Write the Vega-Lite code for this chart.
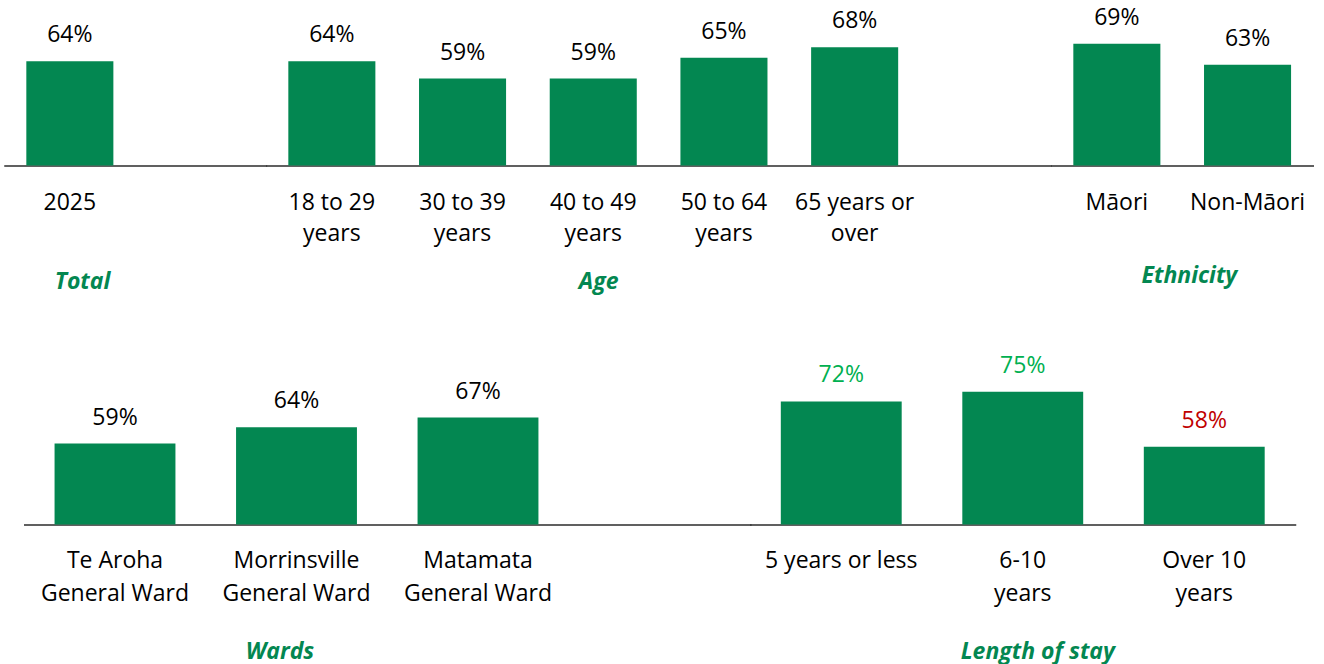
{
  "$schema": "https://vega.github.io/schema/vega-lite/v6.json",
  "padding": {"left": 4.5, "top": 5.5, "right": 0, "bottom": 0},
  "bounds": "flush",
  "spacing": 370,
  "datasets": {
    "rows": [
      {"group": "Total", "label": "2025", "value": 0.64},
      {"group": "Age", "label": "18 to 29|years", "value": 0.64},
      {"group": "Age", "label": "30 to 39|years", "value": 0.59},
      {"group": "Age", "label": "40 to 49|years", "value": 0.59},
      {"group": "Age", "label": "50 to 64|years", "value": 0.65},
      {"group": "Age", "label": "65 years or|over", "value": 0.68},
      {"group": "Ethnicity", "label": "Māori", "value": 0.69},
      {"group": "Ethnicity", "label": "Non-Māori", "value": 0.63},
      {"group": "Wards", "label": "Te Aroha|General Ward", "value": 0.59},
      {"group": "Wards", "label": "Morrinsville|General Ward", "value": 0.64},
      {"group": "Wards", "label": "Matamata|General Ward", "value": 0.67},
      {"group": "Length of stay", "label": "5 years or less", "value": 0.72},
      {"group": "Length of stay", "label": "6-10|years", "value": 0.75},
      {"group": "Length of stay", "label": "Over 10|years", "value": 0.58}
    ]
  },
  "vconcat": [
    {
      "bounds": "flush",
      "spacing": 0,
      "resolve": {"scale": {"x": "independent", "y": "independent"}},
      "hconcat": [
        {
          "width": 261.4, "height": 160,
          "data": {"name": "rows"},
          "transform": [{"filter": "datum.group == 'Total'"}],
          "encoding": {
            "x": {"field": "label", "type": "nominal", "sort": null,
              "scale": {"domain": ["2025", "~"], "paddingInner": 0.334, "paddingOuter": 0.167},
              "axis": {"title": "Total", "titleX": 77.5, "titleY": 122.8, "labelPadding": 26, "labelLineHeight": 31,
                "labelExpr": "datum.value == '~' ? '' : split(datum.value, '|')"}},
            "y": {"field": "value", "type": "quantitative", "scale": {"domain": [0.34, 0.8], "zero": false, "nice": false}, "axis": null}
          },
          "layer": [
            {"mark": {"type": "bar", "color": "#038751"}, "encoding": {"y2": {"datum": 0.34}}},
            {"mark": {"type": "text", "baseline": "alphabetic", "dy": -19, "fontSize": 23, "color": "#000000"},
              "encoding": {"text": {"field": "value", "type": "quantitative", "format": ".0%"}}}
          ]
        },
        {
          "width": 784.2, "height": 160,
          "data": {"name": "rows"},
          "transform": [{"filter": "datum.group == 'Age'"}],
          "encoding": {
            "x": {"field": "label", "type": "nominal", "sort": null,
              "scale": {"domain": ["18 to 29|years", "30 to 39|years", "40 to 49|years", "50 to 64|years", "65 years or|over", "~"], "paddingInner": 0.334, "paddingOuter": 0.167},
              "axis": {"title": "Age", "titleX": 331.6, "titleY": 122.8, "labelPadding": 26, "labelLineHeight": 31,
                "labelExpr": "datum.value == '~' ? '' : split(datum.value, '|')"}},
            "y": {"field": "value", "type": "quantitative", "scale": {"domain": [0.34, 0.8], "zero": false, "nice": false}, "axis": null}
          },
          "layer": [
            {"mark": {"type": "bar", "color": "#038751"}, "encoding": {"y2": {"datum": 0.34}}},
            {"mark": {"type": "text", "baseline": "alphabetic", "dy": -19, "fontSize": 23, "color": "#000000"},
              "encoding": {"text": {"field": "value", "type": "quantitative", "format": ".0%"}}}
          ]
        },
        {
          "width": 261.4, "height": 160,
          "data": {"name": "rows"},
          "transform": [{"filter": "datum.group == 'Ethnicity'"}],
          "encoding": {
            "x": {"field": "label", "type": "nominal", "sort": null,
              "scale": {"domain": ["Māori", "Non-Māori"], "paddingInner": 0.334, "paddingOuter": 0.167},
              "axis": {"title": "Ethnicity", "titleX": 137.4, "titleY": 116.5, "labelPadding": 26, "labelLineHeight": 31,
                "labelExpr": "split(datum.value, '|')"}},
            "y": {"field": "value", "type": "quantitative", "scale": {"domain": [0.34, 0.8], "zero": false, "nice": false}, "axis": null}
          },
          "layer": [
            {"mark": {"type": "bar", "color": "#038751"}, "encoding": {"y2": {"datum": 0.34}}},
            {"mark": {"type": "text", "baseline": "alphabetic", "dy": -19, "fontSize": 23, "color": "#000000"},
              "encoding": {"text": {"field": "value", "type": "quantitative", "format": ".0%"}}}
          ]
        }
      ]
    },
    {
      "bounds": "flush",
      "spacing": 0,
      "resolve": {"scale": {"x": "independent", "y": "independent"}},
      "hconcat": [
        {
          "width": 745.75, "height": 149,
          "data": {"name": "rows"},
          "transform": [{"filter": "datum.group == 'Wards'"}],
          "encoding": {
            "x": {"field": "label", "type": "nominal", "sort": null,
              "scale": {"domain": ["Te Aroha|General Ward", "Morrinsville|General Ward", "Matamata|General Ward", "~"], "range": [19.75, 745.75], "paddingInner": 0.334, "paddingOuter": 0.167},
              "axis": {"title": "Wards", "titleX": 275, "titleY": 134, "labelPadding": 24.5, "labelLineHeight": 33,
                "labelExpr": "datum.value == '~' ? '' : split(datum.value, '|')"}},
            "y": {"field": "value", "type": "quantitative", "scale": {"domain": [0.34, 0.8], "zero": false, "nice": false}, "axis": null}
          },
          "layer": [
            {"mark": {"type": "bar", "color": "#038751"}, "encoding": {"y2": {"datum": 0.34}}},
            {"mark": {"type": "text", "baseline": "alphabetic", "dy": -19, "fontSize": 23, "color": "#000000"},
              "encoding": {"text": {"field": "value", "type": "quantitative", "format": ".0%"}}}
          ]
        },
        {
          "width": 544.5, "height": 149,
          "data": {"name": "rows"},
          "transform": [{"filter": "datum.group == 'Length of stay'"}],
          "encoding": {
            "x": {"field": "label", "type": "nominal", "sort": null,
              "scale": {"domain": ["5 years or less", "6-10|years", "Over 10|years"], "paddingInner": 0.334, "paddingOuter": 0.167},
              "axis": {"title": "Length of stay", "titleX": 286.8, "titleY": 133.5, "labelPadding": 24.5, "labelLineHeight": 33,
                "labelExpr": "split(datum.value, '|')"}},
            "y": {"field": "value", "type": "quantitative", "scale": {"domain": [0.34, 0.8], "zero": false, "nice": false}, "axis": null}
          },
          "layer": [
            {"mark": {"type": "bar", "color": "#038751"}, "encoding": {"y2": {"datum": 0.34}}},
            {"mark": {"type": "text", "baseline": "alphabetic", "dy": -19, "fontSize": 23},
              "encoding": {
                "text": {"field": "value", "type": "quantitative", "format": ".0%"},
                "color": {"condition": {"test": "datum.value < 0.6", "value": "#C00000"}, "value": "#00B050"}
              }}
          ]
        }
      ]
    }
  ],
  "config": {
    "font": "Open Sans",
    "view": {"stroke": null},
    "axisX": {
      "labelAngle": 0,
      "labelFontSize": 23,
      "labelColor": "#000000",
      "labelLimit": 0,
      "labelBaseline": "top",
      "ticks": false,
      "grid": false,
      "domainColor": "#2b2b2b",
      "domainWidth": 1.5,
      "domainCap": "square",
      "titleFontSize": 23,
      "titleFontWeight": "bold",
      "titleFontStyle": "italic",
      "titleColor": "#038751",
      "titleAlign": "center",
      "titleBaseline": "alphabetic"
    }
  }
}
